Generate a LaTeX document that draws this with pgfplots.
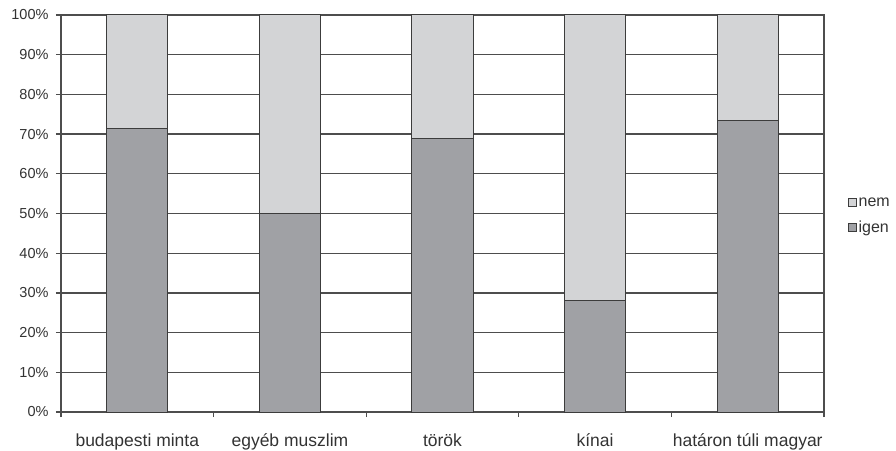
\documentclass[border=0pt]{standalone}
\usepackage{pgfplots}
\pgfplotsset{compat=1.18}
\usepackage{fontspec}
\setmainfont{Liberation Sans}
\definecolor{darkbar}{HTML}{A0A1A5}
\definecolor{lightbar}{HTML}{D3D4D6}
\definecolor{edge}{HTML}{3C3C3C}
\definecolor{gridc}{HTML}{4D4D4D}
\definecolor{txt}{HTML}{333333}
\begin{document}
\begin{tikzpicture}
\path[use as bounding box] (-61pt,-38pt) rectangle (835pt,412pt);
\begin{axis}[
  at={(0pt,0pt)}, anchor=south west,
  scale only axis, width=763pt, height=397pt,
  ybar stacked, bar width=0.4,
  xmin=-0.5, xmax=4.5, ymin=0, ymax=100,
  xtick={-0.5,0.5,...,4.5}, xticklabels={},
  extra x ticks={0,1,2,3,4},
  extra x tick labels={budapesti minta, egyéb muszlim, török, kínai, határon túli magyar},
  extra x tick style={major tick length=0pt, grid=none,
     xticklabel style={font=\fontsize{17.5}{17.5}\selectfont, text=txt, anchor=base, yshift=-34pt}},
  ytick={0,10,...,100},
  yticklabels={0\%,10\%,20\%,30\%,40\%,50\%,60\%,70\%,80\%,90\%,100\%},
  yticklabel style={font=\fontsize{14.5}{14.5}\selectfont, text=txt, xshift=-4pt},
  ymajorgrids, major grid style={gridc, line width=1.2pt},
  tick align=outside, tick pos=left, major tick length=5pt,
  tick style={gridc, line width=1.2pt},
  axis line style={gridc, line width=1.2pt},
  legend image code/.code={\draw[#1, line width=0.8pt] (0pt,-4pt) rectangle (8pt,4pt);},
  reverse legend, legend cell align=left,
  legend style={at={(1,0.5)}, anchor=west, xshift=24pt, yshift=-2pt,
     draw=none, fill=none, font=\fontsize{16}{16}\selectfont, text=txt,
     row sep=10pt, inner sep=0pt, nodes={inner sep=1.5pt}},
]
\addplot[fill=darkbar, draw=edge, line width=1pt,
  legend image code/.code={\draw[fill=darkbar, draw=edge, line width=0.9pt] (0pt,-4pt) rectangle (8pt,4pt);}]
  coordinates {(0,71.3) (1,50) (2,69) (3,28.2) (4,73.5)};
\addplot[fill=lightbar, draw=edge, line width=1pt,
  legend image code/.code={\draw[fill=lightbar, draw=edge, line width=0.9pt] (0pt,-4pt) rectangle (8pt,4pt);}]
  coordinates {(0,28.7) (1,50) (2,31) (3,71.8) (4,26.5)};
\legend{igen, nem}
\end{axis}
\end{tikzpicture}
\end{document}
